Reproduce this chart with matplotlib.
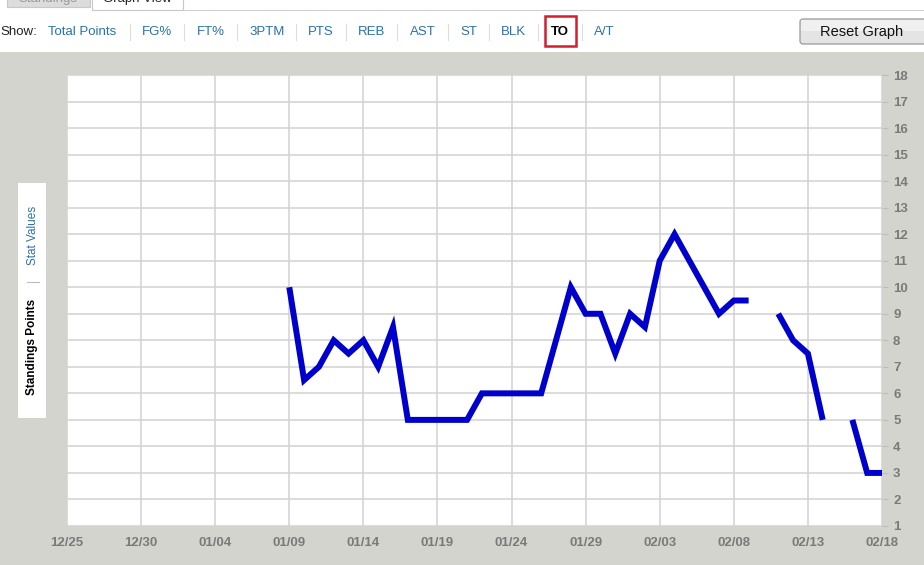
import numpy as np
import matplotlib
matplotlib.use('Agg')
import matplotlib.pyplot as plt
from matplotlib.patches import Rectangle, FancyBboxPatch

plt.rcParams['font.family'] = ['Liberation Sans', 'DejaVu Sans']

# data: day offsets from 12/25, standings points for TO (None = no data)
start_day = 15
to_points = [10, 6.5, 7, 8, 7.5, 8, 7, 8.5, 5, 5,
             5, 5, 5, 6, 6, 6, 6, 6, 8, 10,
             9, 9, 7.5, 9, 8.5, 11, 12, 11, 10, 9,
             9.5, 9.5, None, 9, 8, 7.5, 5, None, 5, 3,
             3]
x_labels = ['12/25', '12/30', '01/04', '01/09', '01/14', '01/19',
            '01/24', '01/29', '02/03', '02/08', '02/13', '02/18']
y_ticks = list(range(1, 19))
menu = ['Total Points', 'FG%', 'FT%', '3PTM', 'PTS', 'REB', 'AST', 'ST',
        'BLK', 'TO', 'A/T']
menu_x = [48, 142, 197, 249, 308, 358, 410, 460, 501, 551, 594]
sep_x = [130, 184, 237, 296, 346, 397, 448, 489, 538, 582]

W, H = 924, 565
fig = plt.figure(figsize=(W / 100, H / 100), dpi=100)
fig.patch.set_facecolor('white')

# page chrome in pixel coordinates
bg = fig.add_axes([0, 0, 1, 1], zorder=0)
bg.set_xlim(0, W)
bg.set_ylim(H, 0)
bg.axis('off')

panel = '#d4d4ce'
link = '#2a72a8'
bg.add_patch(Rectangle((0, 52), W, H - 52, color=panel, lw=0))

# tabs at the very top (cut off by the screenshot edge)
bg.add_patch(Rectangle((7, -2), 83, 9, facecolor='#dcdcdc', edgecolor='#c8c8c8', lw=0.8))
bg.add_patch(Rectangle((92, -2), 91, 12, facecolor='white', edgecolor='#c8c8c8', lw=0.8))
bg.plot([183, W], [9.5, 9.5], color='#d0d0d0', lw=0.8)
bg.text(48, -1, 'Standings', fontsize=9.5, color='#999999', ha='center', va='center')
bg.text(137, -1, 'Graph View', fontsize=9.5, color='#222222', ha='center', va='center')

# Show: menu
bg.text(0, 32, 'Show:', fontsize=9.5, color='#222222', ha='left', va='center')
for name, mx in zip(menu, menu_x):
    if name == 'TO':
        bg.text(mx, 32, name, fontsize=9.5, color='black', fontweight='bold',
                ha='left', va='center')
    else:
        bg.text(mx, 32, name, fontsize=9.5, color=link, ha='left', va='center')
for sx in sep_x:
    bg.plot([sx, sx], [24, 40], color='#dddddd', lw=0.8)
bg.add_patch(Rectangle((545, 16), 31, 30, facecolor='none', edgecolor='#d0202e', lw=1.8))

# Reset Graph button
bg.add_patch(FancyBboxPatch((800, 19), 130, 25, boxstyle='round,pad=0,rounding_size=3',
                            facecolor='#e4e4e4', edgecolor='#9a9a9a', lw=0.9))
bg.add_patch(Rectangle((801, 20), 128, 11, color='#f0f0f0', lw=0))
bg.text(862, 32, 'Reset Graph', fontsize=10.5, color='#111111', ha='center', va='center')

# left vertical tab
bg.add_patch(Rectangle((18, 183), 28, 235, color='white', lw=0))
bg.text(33, 235, 'Stat Values', fontsize=8.5, color=link, rotation=90,
        ha='center', va='center')
bg.plot([27, 39], [282, 282], color='#bbbbbb', lw=0.8)
bg.text(32, 347, 'Standings Points', fontsize=8.5, color='black', fontweight='bold',
        rotation=90, ha='center', va='center')

# chart
left, right, top, bottom = 67, 882, 75, 526
ax = fig.add_axes([left / W, 1 - bottom / H, (right - left) / W, (bottom - top) / H],
                  zorder=1)
ax.set_facecolor('white')

days = np.arange(start_day, start_day + len(to_points))
vals = np.array([np.nan if v is None else v for v in to_points], dtype=float)
ax.plot(days, vals, color='#0000cc', lw=4.3, solid_joinstyle='miter',
        solid_capstyle='butt', zorder=3)

ax.set_xlim(0, 55)
ax.set_ylim(1, 18)
ax.set_xticks(np.arange(0, 56, 5))
ax.set_xticklabels(x_labels)
ax.set_yticks(y_ticks)
ax.yaxis.tick_right()
ax.grid(True, color='#d2d2d2', lw=1.1, zorder=1)
for s in ax.spines.values():
    s.set_visible(False)

tick_font = ['Liberation Sans Narrow', 'Liberation Sans', 'DejaVu Sans']
for lab in ax.get_xticklabels() + ax.get_yticklabels():
    lab.set_family(tick_font)
    lab.set_fontweight('bold')
    lab.set_color('#7a7a7a')
    lab.set_fontsize(9.5)
ax.tick_params(axis='x', length=0, pad=8)
ax.tick_params(axis='y', length=4, color='#bdbdbd', pad=4)
for lab in ax.get_yticklabels():
    lab.set_horizontalalignment('left')

fig.savefig('out.png', dpi=100, facecolor=fig.get_facecolor())
